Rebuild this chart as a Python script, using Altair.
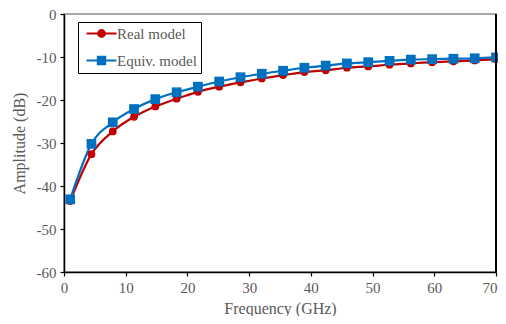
import altair as alt
import pandas as pd

freq = [1, 4.45, 7.9, 11.35, 14.8, 18.25, 21.7, 25.15, 28.6, 32.05, 35.5,
        38.95, 42.4, 45.85, 49.3, 52.75, 56.2, 59.65, 63.1, 66.55, 70]
real = [-43.5, -32.6, -27.3, -23.9, -21.5, -19.7, -18.1, -16.9, -15.9, -15.0, -14.2,
        -13.5, -13.1, -12.5, -12.2, -11.8, -11.5, -11.2, -11.0, -10.8, -10.5]
equiv = [-43.1, -30.2, -25.2, -22.1, -19.8, -18.2, -16.9, -15.7, -14.7, -13.9, -13.2,
         -12.5, -12.0, -11.5, -11.2, -10.9, -10.6, -10.5, -10.4, -10.3, -10.1]
series = ["Real model", "Equiv. model"]
colors = ["#C00000", "#0070C0"]
x_ticks = [0, 10, 20, 30, 40, 50, 60, 70]
y_ticks = [0, -10, -20, -30, -40, -50, -60]

df = pd.concat([
    pd.DataFrame({"f": freq, "a": real, "s": series[0]}),
    pd.DataFrame({"f": freq, "a": equiv, "s": series[1]}),
])

FONT = "Liberation Serif"
GRAY = "#595959"

axis_common = dict(labelFont=FONT, labelFontSize=15, labelColor=GRAY,
                   titleFont=FONT, titleFontSize=16, titleColor=GRAY,
                   titleFontWeight="normal", labelExpr="toString(datum.value)",
                   grid=False, domainColor="black", domainWidth=1.5,
                   tickColor="black", tickSize=4, tickWidth=1.2, labelFlush=False)

x = alt.X("f:Q", scale=alt.Scale(domain=[0, 70], nice=False),
          axis=alt.Axis(title="Frequency (GHz)", values=x_ticks, titlePadding=5,
                        labelPadding=4,
                        labelAlign={"condition": {"test": "datum.value == 70", "value": "right"},
                                    "value": "center"},
                        labelOffset={"condition": {"test": "datum.value == 70", "value": 1},
                                     "value": 0},
                        **axis_common))
y = alt.Y("a:Q", scale=alt.Scale(domain=[-60, 0], nice=False),
          axis=alt.Axis(title="Amplitude (dB)", values=y_ticks, titlePadding=9,
                        labelPadding=4, **axis_common))
cscale = alt.Scale(domain=series, range=colors)

# legend symbols: a line with a (stroke-filled) marker in the middle
circle_leg = "M-3,0H3" + "".join(
    f"M{r},0A{r},{r} 0 1,1 -{r},0A{r},{r} 0 1,1 {r},0Z" for r in [0.68, 0.45, 0.22])
square_leg = "M-3,0H3" + "".join(
    f"M-{h},-{h}H{h}V{h}H-{h}Z" for h in [0.74, 0.5, 0.26])

base = alt.Chart(df)
layers = []
for s, c in zip(series, colors):
    sub = base.transform_filter(alt.datum.s == s)
    layers.append(sub.mark_line(interpolate="monotone", strokeWidth=2.2, color=c).encode(x=x, y=y))
for s, c, shp, sz in zip(series, colors, ["circle", "square"], [60, 95]):
    sub = base.transform_filter(alt.datum.s == s)
    layers.append(sub.mark_point(filled=True, opacity=1, shape=shp, size=sz, color=c).encode(x=x, y=y))

leg = alt.Legend(
    title=None, orient="none", legendX=14, legendY=8,
    strokeColor="black", fillColor="white", padding=4,
    labelFont=FONT, labelFontSize=15, labelColor=GRAY,
    symbolSize=100, symbolStrokeWidth=2, symbolOpacity=1,
    symbolOffset=12, labelOffset=8, rowPadding=10,
)

dummy = base.mark_point(filled=False, opacity=0, strokeWidth=2).encode(
    x=x, y=y,
    color=alt.Color("s:N", scale=cscale, legend=leg),
    shape=alt.Shape("s:N", scale=alt.Scale(domain=series, range=[circle_leg, square_leg]), legend=leg),
)
layers.append(dummy)

right_edge = base.mark_rule(color="black", strokeWidth=1.5).encode(
    x=alt.X(datum=70, scale=alt.Scale(domain=[0, 70], nice=False)),
    y=alt.value(0), y2=alt.value(258),
)
layers.append(right_edge)

chart = alt.layer(*layers).properties(
    width=432, height=258,
    autosize=alt.AutoSizeParams(type="none"),
    padding={"left": 56, "top": 6, "right": 2, "bottom": 44},
).configure_view(stroke="#8c8c8c", strokeWidth=1.5)

chart.save("out.html", embed_options={"renderer": "svg", "actions": False})
